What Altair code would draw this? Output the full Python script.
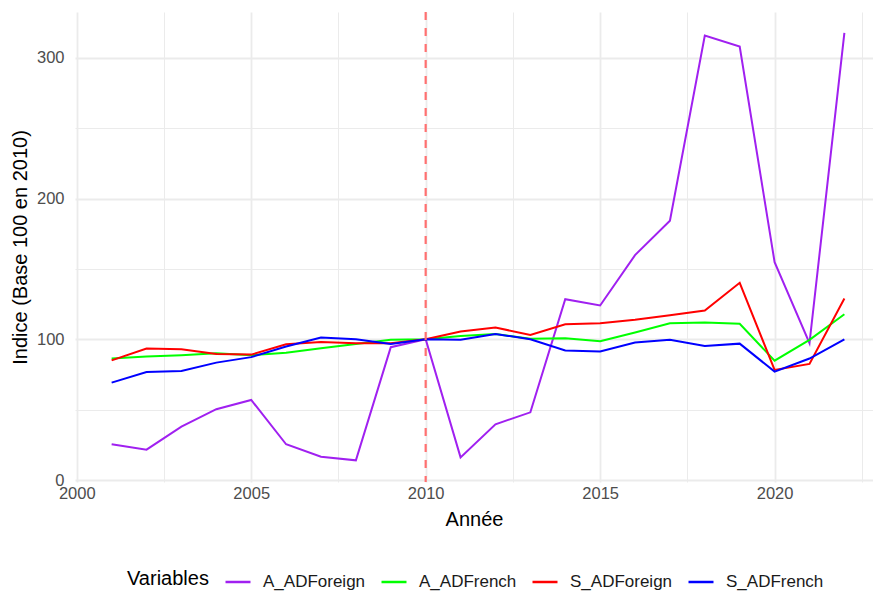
import altair as alt
import pandas as pd

years = list(range(2001, 2023))
series_names = ["A_ADForeign", "A_ADFrench", "S_ADForeign", "S_ADFrench"]
series_colors = ["#A020F0", "#00FF00", "#FF0000", "#0000FF"]

a_adforeign = [25.4, 21.6, 37.9, 50.3, 56.9, 25.4, 16.6, 14.0, 94.4, 100.0, 16.1,
               39.6, 48.1, 128.5, 124.0, 159.8, 184.2, 315.8, 308.0, 154.8, 97.2, 317.7]
a_adfrench = [86.3, 87.7, 88.7, 90.1, 88.7, 90.5, 93.6, 96.7, 99.6, 100.0, 102.4,
              103.8, 100.3, 100.8, 98.6, 104.8, 111.4, 111.9, 111.0, 84.8, 99.6, 117.8]
s_adforeign = [85.0, 93.4, 92.9, 89.6, 89.1, 96.5, 98.1, 97.2, 97.2, 100.0, 105.5,
               108.3, 103.1, 110.7, 111.4, 113.8, 117.1, 120.4, 140.1, 78.2, 82.5, 128.9]
s_adfrench = [69.2, 76.8, 77.5, 83.4, 87.3, 94.8, 101.2, 100.0, 96.7, 100.0, 99.6,
              103.8, 100.0, 92.0, 91.3, 97.7, 99.6, 95.3, 96.9, 77.0, 86.3, 100.0]

reference_year = [2010]
x_ticks = [2000, 2002.5, 2005, 2007.5, 2010, 2012.5, 2015, 2017.5, 2020, 2022.5]
y_ticks = [0, 50, 100, 150, 200, 250, 300]

rows = []
for name, vals in zip(series_names, [a_adforeign, a_adfrench, s_adforeign, s_adfrench]):
    for yr, v in zip(years, vals):
        rows.append({"annee": yr, "indice": v, "Variables": name})
df = pd.DataFrame(rows)

FONT = "Liberation Sans"
x_scale = alt.Scale(domain=[1999.95, 2022.82], nice=False, zero=False)
y_scale = alt.Scale(domain=[-1.4, 332.5], nice=False, zero=False)

lines = alt.Chart(df).mark_line(strokeWidth=2).encode(
    x=alt.X(
        "annee:Q",
        scale=x_scale,
        title="Année",
        axis=alt.Axis(
            values=x_ticks,
            labelExpr="datum.value % 5 === 0 ? format(datum.value, 'd') : ''",
            gridWidth={"condition": {"test": "datum.value % 5 === 0", "value": 1.8}, "value": 1.0},
            labelFlush=False,
            labelOverlap=False,
            labelPadding=3,
            titlePadding=8,
        ),
    ),
    y=alt.Y(
        "indice:Q",
        scale=y_scale,
        title="Indice (Base 100 en 2010)",
        axis=alt.Axis(
            values=y_ticks,
            labelExpr="datum.value % 100 === 0 ? format(datum.value, 'd') : ''",
            gridWidth={"condition": {"test": "datum.value % 100 === 0", "value": 1.8}, "value": 1.0},
            labelOverlap=False,
            labelPadding=11,
            titlePadding=6,
        ),
    ),
    color=alt.Color(
        "Variables:N",
        scale=alt.Scale(domain=series_names, range=series_colors),
        legend=alt.Legend(
            title="Variables",
            orient="none",
            legendX=52,
            legendY=556,
            direction="horizontal",
            titleOrient="left",
            symbolType="stroke",
            symbolSize=625,
            symbolStrokeWidth=2.5,
            labelFontSize=17,
            labelFont=FONT,
            labelColor="#1A1A1A",
            titleFontSize=20,
            titleFont=FONT,
            titleFontWeight="normal",
            titleColor="#000000",
            titlePadding=15,
            labelOffset=11,
            columnPadding=10,
            padding=0,
        ),
    ),
)

vline = alt.Chart(pd.DataFrame({"x": reference_year})).mark_rule(
    color="#FF7070", strokeDash=[8, 8], strokeWidth=2.2
).encode(x=alt.X("x:Q", scale=x_scale))

chart = (
    alt.layer(lines, vline)
    .properties(
        width=798,
        height=470,
        autosize=alt.AutoSizeParams(type="none"),
        padding={"left": 67, "top": 4, "right": 0, "bottom": 111},
        background="white",
    )
    .configure_view(stroke=None)
    .configure_axis(
        domain=False,
        ticks=False,
        tickSize=0,
        gridColor="#EBEBEB",
        labelFont=FONT,
        labelFontSize=16.5,
        labelColor="#4D4D4D",
        titleFont=FONT,
        titleFontSize=20,
        titleFontWeight="normal",
        titleColor="#000000",
    )
)

chart.save("out.html", embed_options={"renderer": "svg", "actions": False})
